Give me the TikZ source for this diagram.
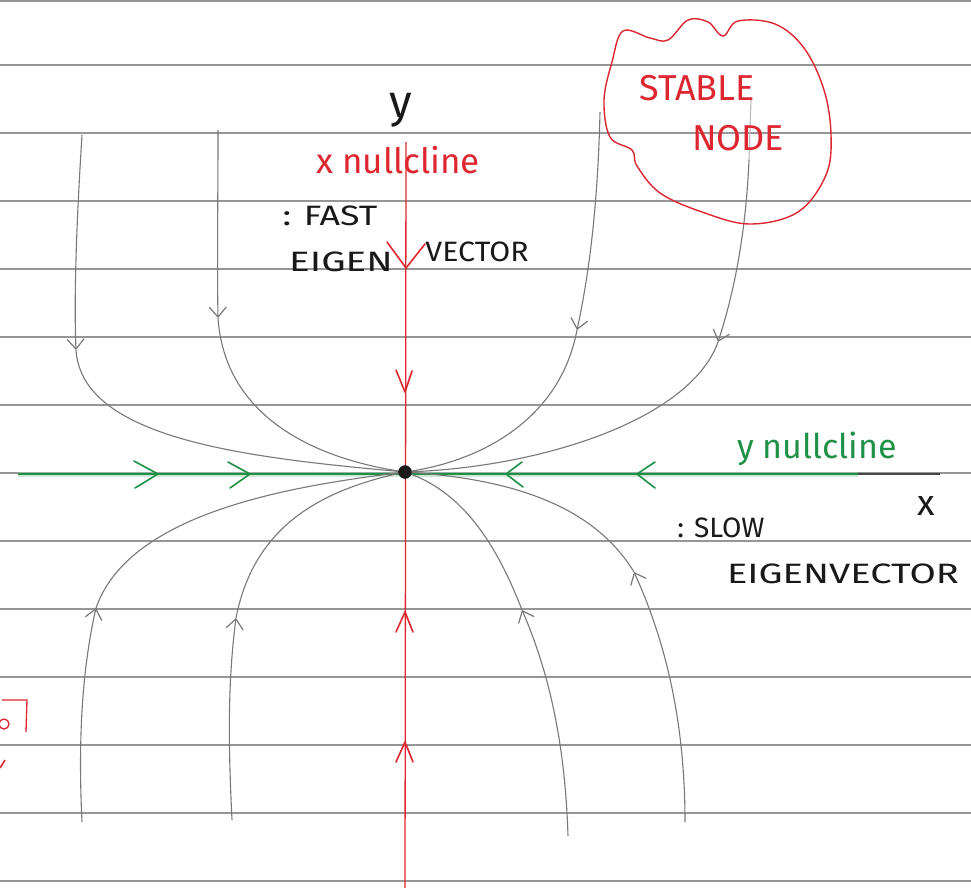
\documentclass[tikz,border=0pt]{standalone}
\usepackage{fontspec}
\setmainfont{Fira Sans}
\usetikzlibrary{arrows.meta}
\definecolor{penred}{RGB}{222,38,48}
\definecolor{pengreen}{RGB}{30,145,70}
\definecolor{pengray}{RGB}{120,120,120}
\definecolor{ruled}{RGB}{150,150,150}
\definecolor{ink}{RGB}{25,25,25}
\begin{document}
\begin{tikzpicture}[x=1pt,y=-1pt,
  ruleline/.style={ruled,line width=1.3pt},
  traj/.style={pengray,line width=1.1pt},
  trajarr/.style={traj,-{Straight Barb[length=10pt,width=17pt,line width=1.2pt]}},
  redv/.style={penred,line width=1.6pt,line cap=round,line join=round},
  greenv/.style={pengreen,line width=1.6pt,line cap=round,line join=round},
  hand/.style={inner sep=0pt,font=\fontsize{28}{30}\selectfont},
]
\useasboundingbox (0,0) rectangle (971,888);
\fill[white] (0,0) rectangle (971,888);

% ruled paper lines
\foreach \yy in {1,65,133,201,269,337,405,473,541,609,677,745,813,881}
  \draw[ruleline] (0,\yy) -- (971,\yy);

% origin
\coordinate (O) at (405,472);

% y axis (x nullcline) in red
\coordinate (yt) at (406,142);
\coordinate (yb) at (405,888);
\draw[penred,line width=1.3pt] (yt) -- (yb);

% x axis: green part and dark tail
\coordinate (xl) at (18,474);
\coordinate (xg) at (858,474);
\coordinate (xr) at (940,474);
\draw[ink!80,line width=1.6pt] (xg) -- (xr);
\draw[pengreen!40,line width=5pt,opacity=0.5] (xl) -- (xg);
\draw[pengreen,line width=2pt] (xl) -- (xg);

% trajectories, upper half
\draw[trajarr] (82,135) .. controls (76,230) and (74,300) .. (76,350);
\draw[traj] (76,350) .. controls (82,440) and (250,458) .. (O);
\draw[trajarr] (218,130) .. controls (218,200) and (217,260) .. (218,318);
\draw[traj] (218,318) .. controls (225,420) and (320,460) .. (O);
\draw[trajarr] (600,112) .. controls (598,200) and (590,270) .. (577,330);
\draw[traj] (577,330) .. controls (560,420) and (480,462) .. (O);
\draw[traj,pengray!50] (751,100) -- (749,160);
\draw[trajarr] (749,160) .. controls (746,230) and (735,290) .. (718,342);
\draw[traj] (718,342) .. controls (690,420) and (540,468) .. (O);

% trajectories, lower half
\draw[trajarr] (82,822) .. controls (78,740) and (82,670) .. (96,608);
\draw[traj] (96,608) .. controls (130,510) and (300,485) .. (O);
\draw[trajarr] (232,820) .. controls (228,740) and (228,680) .. (236,618);
\draw[traj] (236,618) .. controls (255,520) and (330,488) .. (O);
\draw[trajarr] (568,836) .. controls (565,740) and (548,670) .. (522,610);
\draw[traj] (522,610) .. controls (495,540) and (460,490) .. (O);
\draw[trajarr] (685,822) .. controls (685,720) and (665,640) .. (634,572);
\draw[traj] (634,572) .. controls (590,500) and (500,478) .. (O);

% origin dot
\node[circle,fill=ink,draw=ink,minimum size=13pt,inner sep=0pt] (dot) at (O) {};

% red chevrons on the y axis
\draw[redv] (387,242) -- (406,268) -- (425,244);
\draw[redv] (396,370) -- (405,392) -- (412,371);
\draw[redv] (396,632) -- (405,612) -- (413,632);
\draw[redv] (396,762) -- (405,742) -- (413,762);

% green chevrons on the x axis
\draw[greenv] (134,461) -- (158,474) -- (135,488);
\draw[greenv] (228,462) -- (250,474) -- (230,488);
\draw[greenv] (522,462) -- (506,474) -- (523,487);
\draw[greenv] (655,462) -- (637,474) -- (655,488);

% labels
\node[hand,ink,font=\fontsize{46}{48}\selectfont] (ylab) at (401,110) {y};
\node[hand,ink,font=\fontsize{36}{38}\selectfont] (xlab) at (926,506) {x};
\node[hand,penred,font=\fontsize{35}{37}\selectfont] (xnc) at (398,160) {x nullcline};
\node[hand,ink,xscale=1.28] (fast) at (330,216) {: FAST};
\node[hand,ink,xscale=1.38] (eig1) at (341,262) {EIGEN};
\node[hand,ink,xscale=1.08] (vec1) at (477,252) {VECTOR};
\node[hand,pengreen,font=\fontsize{34}{36}\selectfont] (ync) at (817,449) {y nullcline};
\node[hand,ink] (slow) at (721,528) {: SLOW};
\node[hand,ink,xscale=1.36] (eig2) at (843,574) {EIGENVECTOR};

% stable node blob
\draw[penred,line width=1.4pt] plot[smooth cycle,tension=0.6] coordinates {
  (612,62) (623,31) (650,38) (668,40) (688,20) (708,22) (723,36) (738,21)
  (775,24) (804,48) (824,90) (831,135) (826,175) (798,212) (750,224)
  (702,212) (660,193) (637,166) (632,150) (610,137) (604,100)};
\node[hand,penred,font=\fontsize{36}{38}\selectfont] (stab) at (697,88) {STABLE};
\node[hand,penred,font=\fontsize{36}{38}\selectfont] (nodelbl) at (738,138) {NODE};

% red fragment at left edge
\draw[penred,line width=1.3pt] (2,700) -- (27,700) -- (26,732);
\draw[penred,line width=1.3pt] (4,724) circle[radius=5pt];
\draw[penred,line width=1.6pt] (0,768) -- (5,760);
\end{tikzpicture}
\end{document}
